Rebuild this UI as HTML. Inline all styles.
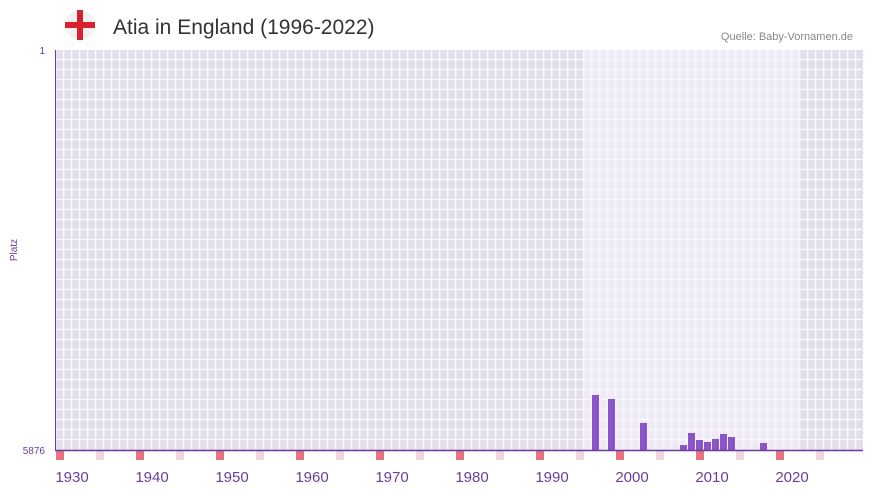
<!DOCTYPE html>
<html><head><meta charset="utf-8">
<style>
body{margin:0;background:#fff;font-family:"Liberation Sans",sans-serif;}
#wrap{position:relative;width:873px;height:492px;overflow:hidden;}
</style></head>
<body>
<div id="wrap">
<svg id="chart" width="873" height="492">
  <g>
    <circle cx="80" cy="25" r="15" fill="#f2f2f2"/>
    <rect x="77" y="10" width="6" height="30" fill="#d7212e"/>
    <rect x="65" y="22" width="30" height="6" fill="#d7212e"/>
  </g>
  <text x="113" y="34" font-size="21" fill="#333">Atia in England (1996-2022)</text>
  <text x="853" y="40" font-size="11" fill="#888" text-anchor="end">Quelle: Baby-Vornamen.de</text>
  <g id="bg"></g>
  <g id="bars"></g>
  <g id="markers"></g>
  <line x1="55.5" y1="50" x2="55.5" y2="451" stroke="#6a3d9a" stroke-width="1"/>
  <line x1="55" y1="450.5" x2="863" y2="450.5" stroke="#6a3d9a" stroke-width="1.5"/>
  <text x="45" y="54" font-size="10" fill="#6a3d9a" text-anchor="end">1</text>
  <text x="45" y="454" font-size="10" fill="#6a3d9a" text-anchor="end">5876</text>
  <text transform="translate(17,250) rotate(-90)" font-size="10" fill="#6a3d9a" text-anchor="middle">Platz</text>
  <g id="xlabels"></g>
</svg>
</div>
<script>
const years=[1996,1998,2002,2007,2008,2009,2010,2011,2012,2013,2017];
const ranks=[5068,5127,5479,5803,5626,5729,5758,5714,5641,5685,5773];
const xTickLabels=[1930,1940,1950,1960,1970,1980,1990,2000,2010,2020];
const rankMin=1, rankMax=5876;
const firstYear=1929, lastYear=2029;
const NS="http://www.w3.org/2000/svg";
function xs(y){return 56+(y-firstYear)*8;}
function ys(r){return 50+(r-rankMin)/(rankMax-rankMin)*400;}
function mk(tag,attrs,parent){const e=document.createElementNS(NS,tag);for(const k in attrs)e.setAttribute(k,attrs[k]);parent.appendChild(e);return e;}
const bg=document.getElementById('bg');
let r=mk('rect',{x:55,y:50,width:808,height:400,fill:'#e2ddeb'},bg);


let l=mk('rect',{x:xs(1995),y:50,width:xs(2022)-xs(1995),height:400,fill:'#eeeaf8'},bg);


for(let x=56;x<=863;x+=8){mk('line',{x1:x-0.5,y1:50,x2:x-0.5,y2:450,stroke:'#f8f7fb','stroke-width':1.6},bg);}
for(let y=60;y<450;y+=10){mk('line',{x1:55,y1:y-0.5,x2:863,y2:y-0.5,stroke:'#f8f7fb','stroke-width':1.6},bg);}
const bars=document.getElementById('bars');
years.forEach((yr,i)=>{
  const top=ys(ranks[i]);
  const b=mk('rect',{x:xs(yr),y:top,width:7,height:450-top,fill:'#8a55c8'},bars);
  
  
});
const mg=document.getElementById('markers');
for(let yr=firstYear;yr<lastYear;yr++){
  const i=yr-firstYear;
  if(i%5!==0)continue;
  const m=mk('rect',{x:xs(yr),y:451,width:8,height:9,fill:i%10===0?'#e8737f':'#f3d5de'},mg);
  
  
}
const xl=document.getElementById('xlabels');
xTickLabels.forEach(t=>{
  const tx=mk('text',{x:xs(t)+8,y:482,'font-size':15,fill:'#6a3d9a','text-anchor':'middle'},xl);
  tx.textContent=t;
  
  
});
</script>
</body></html>
